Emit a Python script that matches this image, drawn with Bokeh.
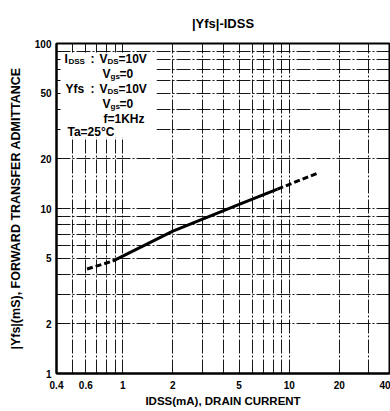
import numpy as np
from bokeh.plotting import figure
from bokeh.models import Range1d, FixedTicker, Label, BoxAnnotation
from bokeh.embed import file_html
from bokeh.resources import INLINE

# ---- data ----
idss_low = [0.61, 0.87]
yfs_low = [4.3, 4.8]
idss_mid = [0.87, 1, 2, 5, 8.5]
yfs_mid = [4.8, 5.15, 7.3, 10.6, 13.1]
idss_high = [8.5, 14.6]
yfs_high = [13.1, 16.3]

x_labeled = [0.4, 0.6, 1, 2, 5, 10, 20, 40]
x_minor = [0.5, 0.7, 0.8, 0.9, 3, 4, 6, 7, 8, 9, 30]
y_labeled = [1, 2, 5, 10, 20, 50, 100]
y_minor = [3, 4, 6, 7, 8, 9, 30, 40, 60, 70, 80, 90]
x_grid = sorted(x_labeled + x_minor)
y_grid = sorted(y_labeled + y_minor)

title_text = "|Yfs|-IDSS"
x_title = "IDSS(mA), DRAIN CURRENT"
y_title = "|Yfs|(mS), FORWARD TRANSFER ADMITTANCE"

# ---- layout helpers (reference pixel -> data coords) ----
W, H = 390, 411
FL, FR, FT, FB = 56, 389, 43, 373
def fx(px):
    return 0.4 * 10 ** (2 * (px - FL) / (FR - FL))
def fy(py):
    return 10 ** (2 * (FB - py) / (FB - FT))

FONT = "Liberation Sans"

p = figure(width=W, height=H, x_axis_type="log", y_axis_type="log",
           x_range=Range1d(0.4, 40), y_range=Range1d(1, 100),
           output_backend="svg", toolbar_location=None,
           min_border_left=FL, min_border_right=W - FR,
           min_border_top=FT, min_border_bottom=H - FB)
p.background_fill_color = "white"
p.border_fill_color = "white"
p.outline_line_color = "black"
p.outline_line_width = 2

# title
p.title.text = title_text
p.title.align = "center"
p.title.vertical_align = "top"
p.title.text_font = FONT
p.title.text_font_style = "bold"
p.title.text_font_size = "13px"
p.title.text_color = "black"
p.title.standoff = 22

# grids
p.xgrid.ticker = FixedTicker(ticks=x_grid)
p.ygrid.ticker = FixedTicker(ticks=y_grid)
for g in (p.xgrid, p.ygrid):
    g.grid_line_color = "black"
    g.grid_line_width = 1
    g.grid_line_alpha = 0.9
    g.grid_line_dash = "14 2 2 2"
    g.minor_grid_line_color = None

# axes
p.xaxis.ticker = FixedTicker(ticks=x_labeled, minor_ticks=x_minor)
p.yaxis.ticker = FixedTicker(ticks=y_labeled, minor_ticks=y_minor)
p.xaxis.major_label_overrides = {t: str(t) for t in x_labeled}
p.yaxis.major_label_overrides = {t: str(t) for t in y_labeled}
for ax in (p.xaxis, p.yaxis):
    ax.major_label_text_font = FONT
    ax.major_label_text_font_style = "bold"
    ax.major_label_text_font_size = "10px"
    ax.major_label_text_color = "black"
    ax.axis_line_color = "black"
    ax.axis_line_width = 2
    ax.axis_label_text_font = FONT
    ax.axis_label_text_font_style = "bold"
    ax.axis_label_text_color = "black"
p.xaxis.major_label_standoff = 1
p.yaxis.major_label_standoff = 5
p.xaxis.axis_label = x_title
p.xaxis.axis_label_text_font_size = "11.5px"
p.xaxis.axis_label_standoff = 3
p.yaxis.axis_label = y_title
p.yaxis.axis_label_text_font_size = "12.5px"
p.yaxis.axis_label_standoff = 9
p.xaxis.major_tick_line_color = None
p.xaxis.minor_tick_line_color = None
p.yaxis.major_tick_in = 4
p.yaxis.major_tick_out = 0
p.yaxis.minor_tick_in = 4
p.yaxis.minor_tick_out = 0
p.yaxis.major_tick_line_color = "black"
p.yaxis.minor_tick_line_color = "black"

# data line
p.line(idss_low, yfs_low, line_color="black", line_width=3, line_dash="6 3")
p.line(idss_mid, yfs_mid, line_color="black", line_width=3)
p.line(idss_high, yfs_high, line_color="black", line_width=3, line_dash="6 3")

# white box behind the condition notes
p.add_layout(BoxAnnotation(left=fx(60), right=fx(156), bottom=fy(137), top=fy(52),
                           fill_color="white", fill_alpha=1.0, line_color=None))

def txt(s, px, py, size=12, align="left"):
    p.add_layout(Label(x=fx(px), y=fy(py), text=s, text_font=FONT,
                       text_font_style="bold", text_font_size=f"{size}px",
                       text_align=align, text_baseline="middle",
                       text_color="black"))

# condition notes
txt("I", 64, 58)
txt("DSS", 68, 61, size=8)
txt(":", 90, 58)
txt("V", 99, 58)
txt("DS", 107, 61, size=8)
txt("=10V", 118, 58)
txt("V", 102, 73)
txt("gs", 110, 76, size=8)
txt("=0", 119, 73)
txt("Yfs", 65, 88)
txt(":", 90, 88)
txt("V", 99, 88)
txt("DS", 107, 91, size=8)
txt("=10V", 118, 88)
txt("V", 102, 103)
txt("gs", 110, 106, size=8)
txt("=0", 119, 103)
txt("f=1KHz", 103, 118)
txt("Ta=25°C", 67, 131)

open("out.html", "w").write(file_html(p, INLINE))
